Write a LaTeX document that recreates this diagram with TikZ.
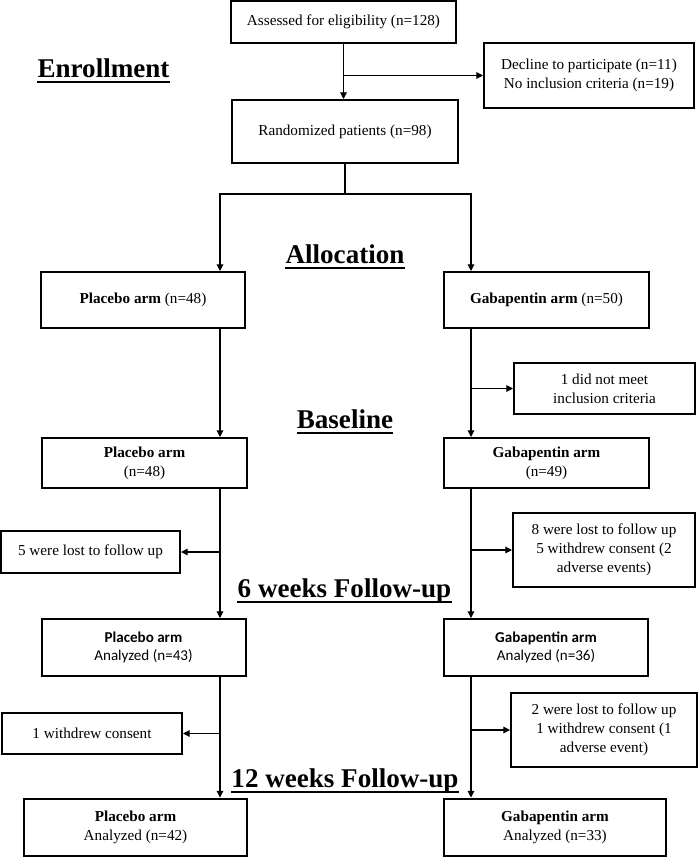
\documentclass[tikz,border=0pt]{standalone}
\usepackage{fontspec}
\setmainfont{Liberation Serif}
\newfontfamily\calibfont{Carlito}
\usepackage{tikz}
\usetikzlibrary{arrows.meta,calc}

\begin{document}
\begin{tikzpicture}[
  x=0.75pt, y=-0.75pt,
  every node/.style={font=\fontsize{11.4}{14.2}\selectfont},
  blk/.style={rectangle, draw=black, line width=1.5pt, fill=white,
              align=center, inner sep=2pt},
  cal/.style={font=\calibfont\fontsize{11.3}{13.5}\selectfont},
  hd/.style={anchor=base, inner sep=0pt, font=\bfseries\fontsize{20.3}{24}\selectfont},
  ul/.style={line width=2pt},
  arr/.style={-{Triangle[length=5pt,width=5pt]}, line width=0.8pt}
]
  \useasboundingbox (0,0) rectangle (698,857);

  \node[blk, minimum width=168.75pt, minimum height=31.5pt] (assess) at (343.5,22) {Assessed for eligibility (n=128)};
  \node[blk, minimum width=157.5pt, minimum height=48.75pt] (decline) at (589,75.5) {Decline to participate (n=11)\\No inclusion criteria (n=19)};
  \node[blk, minimum width=169.5pt, minimum height=47.25pt] (rand) at (345,131.5) {Randomized patients (n=98)};

  \node[blk, minimum width=153.5pt, minimum height=42pt] (palloc) at (143,300) {\textbf{Placebo arm} (n=48)};
  \node[blk, minimum width=153.5pt, minimum height=42pt] (galloc) at (546.5,300) {\textbf{Gabapentin arm} (n=50)};
  \node[blk, minimum width=135.75pt, minimum height=38.25pt] (excl) at (604.5,388.5) {1 did not meet\\inclusion criteria};

  \node[blk, minimum width=153.75pt, minimum height=37.5pt] (pbase) at (144.5,463) {\textbf{Placebo arm}\\(n=48)};
  \node[blk, minimum width=153.75pt, minimum height=37.5pt] (gbase) at (546.5,463) {\textbf{Gabapentin arm}\\(n=49)};
  \node[blk, minimum width=134.25pt, minimum height=31.5pt] (plost6) at (90.5,552) {5 were lost to follow up};
  \node[blk, minimum width=136.5pt, minimum height=55.5pt] (glost6) at (604,550) {8 were lost to follow up\\5 withdrew consent (2\\adverse events)};

  \node[blk, cal, minimum width=153pt, minimum height=42.75pt] (p6) at (143.5,647.5) {\textbf{Placebo arm}\\Analyzed (n=43)};
  \node[blk, cal, minimum width=153pt, minimum height=42.75pt] (g6) at (546,647.5) {\textbf{Gabapentin arm}\\Analyzed (n=36)};
  \node[blk, minimum width=135pt, minimum height=30.75pt] (plost12) at (92,733.5) {1 withdrew consent};
  \node[blk, minimum width=139.5pt, minimum height=55.5pt] (glost12) at (604,730) {2 were lost to follow up\\1 withdrew consent (1\\adverse event)};

  \node[blk, minimum width=167.25pt, minimum height=42.75pt] (p12) at (135.5,827) {\textbf{Placebo arm}\\Analyzed (n=42)};
  \node[blk, minimum width=166.5pt, minimum height=42.75pt] (g12) at (555,827) {\textbf{Gabapentin arm}\\Analyzed (n=33)};

  \node[hd] (enr) at (103.5,77) {Enrollment};
  \node[hd] (alloc) at (345,263) {Allocation};
  \node[hd] (basel) at (345,428) {Baseline};
  \node[hd] (wk6) at (344.5,597) {6 weeks Follow-up};
  \node[hd] (wk12) at (345,787) {12 weeks Follow-up};
  \foreach \h in {enr,alloc,basel,wk6,wk12} {
     \draw[ul] ($(\h.base west)+(0,5)$) -- ($(\h.base east)+(0,5)$);
  }

  \coordinate (tl) at (220,0);
  \coordinate (tr) at (471,0);
  \coordinate (split) at (345,194);

  \draw[arr] (assess.south) -- (assess.south |- rand.north);
  \draw[arr] (assess.south |- decline.west) -- (decline.west);
  \draw[arr] (rand.south) -- (split) -| (palloc.north -| tl);
  \draw[arr] (split) -| (galloc.north -| tr);
  \foreach \a/\b in {palloc/pbase, pbase/p6, p6/p12} {
     \draw[arr] (\a.south -| tl) -- (\b.north -| tl);
  }
  \foreach \a/\b in {galloc/gbase, gbase/g6, g6/g12} {
     \draw[arr] (\a.south -| tr) -- (\b.north -| tr);
  }
  \foreach \n in {plost6, plost12} {
     \draw[arr] (\n.east -| tl) -- (\n.east);
  }
  \foreach \n in {excl, glost6, glost12} {
     \draw[arr] (\n.west -| tr) -- (\n.west);
  }
\end{tikzpicture}
\end{document}
